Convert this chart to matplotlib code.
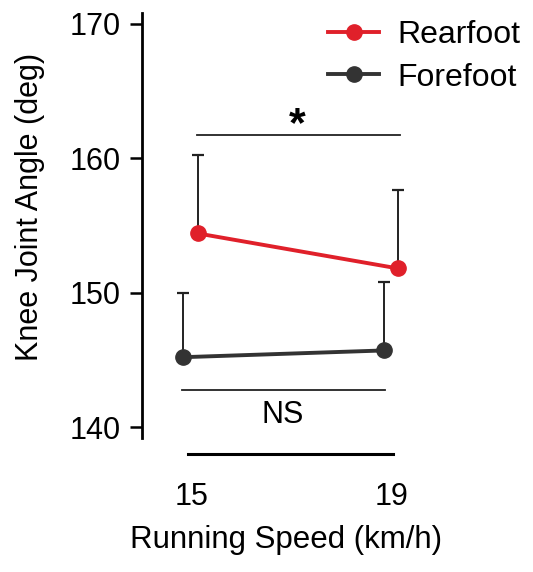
import matplotlib.pyplot as plt

plt.rcParams['font.family'] = ['Liberation Sans', 'DejaVu Sans']

# data
speeds = [15, 19]
rearfoot = [154.4, 151.8]
rearfoot_sd = [5.8, 5.8]
forefoot = [145.2, 145.7]
forefoot_sd = [4.8, 5.1]
tick_labels = ['15', '19']

red = '#e0202a'
dark = '#333333'

fig = plt.figure(figsize=(5.33, 5.72), dpi=100)
ax = fig.add_axes([0.2664, 0.2063, 0.5779, 0.7734])

# small horizontal offsets so the groups don't overlap
rx = [s + 0.12 for s in speeds]
fx = [s - 0.17 for s in speeds]

ax.errorbar(rx, rearfoot, yerr=[[0, 0], rearfoot_sd], fmt='none',
            ecolor='#222222', elinewidth=1.4, capsize=4.5, capthick=1.6, zorder=1)
ax.errorbar(fx, forefoot, yerr=[[0, 0], forefoot_sd], fmt='none',
            ecolor='#222222', elinewidth=1.4, capsize=4.5, capthick=1.6, zorder=1)
ax.plot(rx, rearfoot, color=red, lw=2.8, marker='o', ms=11, label='Rearfoot', zorder=3)
ax.plot(fx, forefoot, color=dark, lw=2.8, marker='o', ms=11, label='Forefoot', zorder=3)

# significance markers
ax.plot([15.1, 19.16], [161.7, 161.7], color='#222222', lw=1.3)
ax.text(17.1, 161.0, '*', ha='center', va='bottom', fontsize=31, fontweight='bold')
ax.plot([14.8, 18.86], [142.76, 142.76], color='#222222', lw=1.3)
ax.text(16.82, 140.9, 'NS', ha='center', va='center', fontsize=22)

ax.set_xlim(14.0, 20.16)
ax.set_ylim(138.0, 170.9)
ax.set_yticks([140, 150, 160, 170])
ax.set_xticks(speeds)
ax.set_xticklabels(tick_labels)

for s in ['top', 'right']:
    ax.spines[s].set_visible(False)
ax.spines['left'].set_bounds(139.2, 170.8)
ax.spines['bottom'].set_bounds(14.92, 19.02)
ax.spines['left'].set_linewidth(2.0)
ax.spines['bottom'].set_linewidth(2.2)
ax.tick_params(axis='y', length=8.5, width=1.8, labelsize=22, pad=7)
ax.tick_params(axis='x', length=0, labelsize=22, pad=20)

fig.text(30 / 533, 1 - 207 / 572, 'Knee Joint Angle (deg)', rotation=90,
         ha='center', va='center', fontsize=22)
fig.text(286 / 533, 0.056, 'Running Speed (km/h)', ha='center', va='center', fontsize=22.5)

ax.legend(loc='upper right', bbox_to_anchor=(1.227, 0.98), frameon=False,
          borderpad=0, borderaxespad=0, fontsize=23, handlelength=1.6,
          handletextpad=0.55, labelspacing=0.38, markerscale=1.0)

fig.savefig('out.png', dpi=100)
